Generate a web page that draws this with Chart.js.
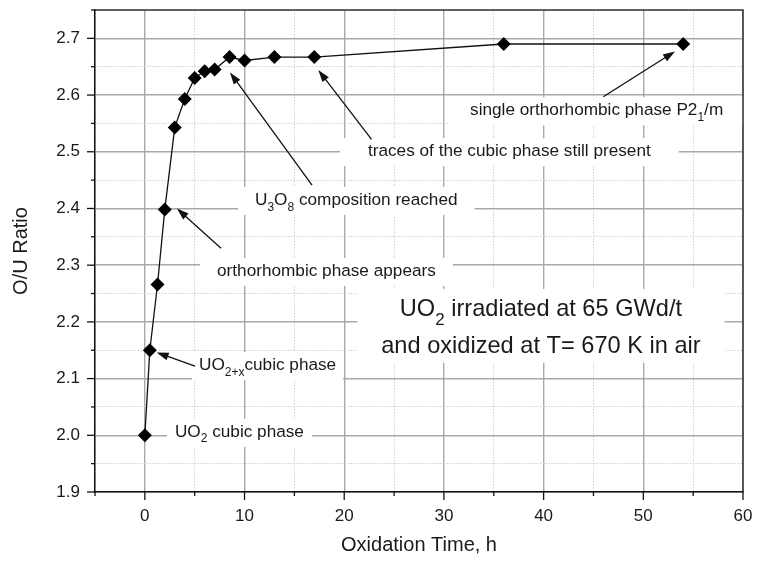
<!DOCTYPE html>
<html>
<head>
<meta charset="utf-8">
<script src="https://cdn.jsdelivr.net/npm/chart.js@4/dist/chart.umd.min.js"></script>
<style>
  html, body { margin: 0; padding: 0; background: #fff; }
  #wrap { width: 758px; height: 562px; position: relative; }
</style>
</head>
<body>
<div id="wrap"><canvas id="c" width="758" height="562"></canvas></div>
<script>
// ---- data ----
const timeH   = [0, 0.5, 1.27, 2, 3, 4, 5, 6, 7, 8.5, 10, 13, 17, 36, 54];
const ouRatio = [2.0, 2.15, 2.266, 2.398, 2.543, 2.593, 2.63, 2.642, 2.645, 2.667, 2.661, 2.667, 2.667, 2.69, 2.69];
const xTickLabels = ['0', '10', '20', '30', '40', '50', '60'];
const yTickLabels = ['1.9', '2.0', '2.1', '2.2', '2.3', '2.4', '2.5', '2.6', '2.7'];

// annotation texts ([text, isSubscript])
const noteTexts = [
  [['UO', 0], ['2', 1], [' cubic phase', 0]],
  [['UO', 0], ['2+x', 1], ['cubic phase', 0]],
  [['orthorhombic phase appears', 0]],
  [['U', 0], ['3', 1], ['O', 0], ['8', 1], [' composition reached', 0]],
  [['traces of the cubic phase still present', 0]],
  [['single orthorhombic phase P2', 0], ['1', 1], ['/m', 0]]
];
// left edge / vertical middle of each note, in data units
const noteAnchors = [[3.02, 2.006], [5.43, 2.124], [7.24, 2.29], [11.05, 2.415], [22.38, 2.501], [32.62, 2.573]];
const arrowTails = [null, [5.03, 2.122], [7.64, 2.330], [16.77, 2.441], [22.74, 2.522], [45.99, 2.597]];
const arrowHeads = [null, [1.18, 2.146], [3.22, 2.40], [8.54, 2.64], [17.40, 2.644], [53.18, 2.677]];
const infoLines = [
  [['UO', 0], ['2', 1], [' irradiated at 65 GWd/t', 0]],
  [['and oxidized at T= 670 K in air', 0]]
];
const infoCenters = [[39.73, 2.221], [39.73, 2.156]];

// ---- style ----
const FONT = '"Liberation Sans", Arial, Helvetica, sans-serif';
const notePads = [8, 7, 17, 17, 28, 20];
const NOTE_SIZE = 17.2;
const INFO_SIZE = 23.6;

function richWidth(ctx, parts, size) {
  let w = 0;
  parts.forEach(p => {
    ctx.font = (p[1] ? Math.round(size * 0.72) : size) + 'px ' + FONT;
    w += ctx.measureText(p[0]).width;
  });
  return w;
}
function drawRich(ctx, parts, x, y, size) {
  let cx = x;
  ctx.textAlign = 'left';
  ctx.textBaseline = 'middle';
  ctx.fillStyle = '#1a1a1a';
  parts.forEach(p => {
    ctx.font = (p[1] ? Math.round(size * 0.72) : size) + 'px ' + FONT;
    ctx.fillText(p[0], cx, p[1] ? y + size * 0.42 : y);
    cx += ctx.measureText(p[0]).width;
  });
}
function drawArrow(ctx, x1, y1, x2, y2) {
  const a = Math.atan2(y2 - y1, x2 - x1);
  const L = 12, W = 4;
  ctx.strokeStyle = '#111';
  ctx.fillStyle = '#111';
  ctx.lineWidth = 1.3;
  ctx.beginPath();
  ctx.moveTo(x1, y1);
  ctx.lineTo(x2 - L * 0.8 * Math.cos(a), y2 - L * 0.8 * Math.sin(a));
  ctx.stroke();
  ctx.beginPath();
  ctx.moveTo(x2, y2);
  ctx.lineTo(x2 - L * Math.cos(a) + W * Math.sin(a), y2 - L * Math.sin(a) - W * Math.cos(a));
  ctx.lineTo(x2 - L * Math.cos(a) - W * Math.sin(a), y2 - L * Math.sin(a) + W * Math.cos(a));
  ctx.closePath();
  ctx.fill();
}

const decor = {
  id: 'decor',
  beforeDatasetsDraw(chart) {
    const { ctx, scales: { x, y } } = chart;
    ctx.save();
    noteTexts.forEach((parts, i) => {
      const px = x.getPixelForValue(noteAnchors[i][0]);
      const py = y.getPixelForValue(noteAnchors[i][1]);
      const w = richWidth(ctx, parts, NOTE_SIZE);
      const pad = notePads[i];
      ctx.fillStyle = '#fff';
      ctx.fillRect(px - pad, py - 13, w + 2 * pad, 28);
      drawRich(ctx, parts, px, py, NOTE_SIZE);
    });
    let maxW = 0;
    infoLines.forEach(l => { maxW = Math.max(maxW, richWidth(ctx, l, INFO_SIZE)); });
    const cx0 = x.getPixelForValue(infoCenters[0][0]);
    const y0 = y.getPixelForValue(infoCenters[0][1]);
    const y1 = y.getPixelForValue(infoCenters[1][1]);
    ctx.fillStyle = '#fff';
    ctx.fillRect(cx0 - maxW / 2 - 24, y0 - 21, maxW + 48, (y1 - y0) + 37);
    infoLines.forEach((l, i) => {
      const w = richWidth(ctx, l, INFO_SIZE);
      const cx = x.getPixelForValue(infoCenters[i][0]);
      const cy = y.getPixelForValue(infoCenters[i][1]);
      drawRich(ctx, l, cx - w / 2, cy, INFO_SIZE);
    });
    arrowTails.forEach((t, i) => {
      if (!t) return;
      const h = arrowHeads[i];
      drawArrow(ctx, x.getPixelForValue(t[0]), y.getPixelForValue(t[1]),
                x.getPixelForValue(h[0]), y.getPixelForValue(h[1]));
    });
    ctx.restore();
  },
  afterDraw(chart) {
    const { ctx, chartArea: a, scales: { x, y } } = chart;
    ctx.save();
    ctx.strokeStyle = '#333';
    ctx.lineWidth = 1.5;
    ctx.beginPath();
    ctx.moveTo(a.left, a.top); ctx.lineTo(a.right, a.top); ctx.lineTo(a.right, a.bottom);
    ctx.stroke();
    ctx.strokeStyle = '#111';
    ctx.lineWidth = 1.3;
    x.ticks.forEach(t => {
      const p = x.getPixelForValue(t.value);
      const len = t.major ? 8 : 4;
      ctx.beginPath(); ctx.moveTo(p, a.bottom); ctx.lineTo(p, a.bottom + len); ctx.stroke();
    });
    y.ticks.forEach(t => {
      const p = y.getPixelForValue(t.value);
      const len = t.major ? 8 : 4;
      ctx.beginPath(); ctx.moveTo(a.left - len, p); ctx.lineTo(a.left, p); ctx.stroke();
    });
    ctx.restore();
  }
};

function buildTicks(labels) {
  const vals = labels.map(Number);
  const out = [];
  vals.forEach((v, i) => {
    out.push({ value: v, major: true, label: labels[i] });
    if (i < vals.length - 1) out.push({ value: (v + vals[i + 1]) / 2, major: false, label: '' });
  });
  return out;
}

const gridColor = ctx => (ctx.tick && ctx.tick.major) ? '#a9a9a9' : '#cfcfcf';
const gridWidth = ctx => (ctx.tick && ctx.tick.major) ? 1.4 : 1;
const gridDash  = ctx => (ctx.tick && !ctx.tick.major) ? [1.5, 1.5] : [];

new Chart(document.getElementById('c'), {
  type: 'scatter',
  data: {
    datasets: [{
      data: timeH.map((t, i) => ({ x: t, y: ouRatio[i] })),
      showLine: true,
      borderColor: '#111',
      borderWidth: 1.3,
      pointStyle: 'rectRot',
      pointRadius: 7,
      pointBackgroundColor: '#000',
      pointBorderColor: '#000',
      pointBorderWidth: 0,
      tension: 0
    }]
  },
  options: {
    responsive: false,
    animation: false,
    events: [],
    layout: { padding: { top: 10, right: 15, left: 0, bottom: 0 } },
    plugins: { legend: { display: false }, tooltip: { enabled: false } },
    scales: {
      x: {
        type: 'linear', min: -5, max: 60,
        afterBuildTicks: s => { s.ticks = [{ value: -5, major: false, label: '' }].concat(buildTicks(xTickLabels)); },
        afterFit: s => { s.height = 70; s.paddingLeft = 0; s.paddingRight = 0; },
        ticks: { padding: 14, color: '#1a1a1a', font: { family: FONT, size: 17 },
                 callback: function (v, i, ticks) { return ticks[i].label; } },
        grid: { drawTicks: false, color: gridColor, lineWidth: gridWidth },
        border: { color: '#111', width: 1.5, dash: gridDash },
        title: { display: true, text: 'Oxidation Time, h', color: '#1a1a1a',
                 font: { family: FONT, size: 20 }, padding: { top: 0, bottom: 5 } }
      },
      y: {
        type: 'linear', min: 1.9, max: 2.75,
        afterBuildTicks: s => { s.ticks = buildTicks(yTickLabels).concat([{ value: 2.75, major: false, label: '' }]); },
        afterFit: s => { s.width = 95; s.paddingTop = 0; s.paddingBottom = 0; },
        ticks: { padding: 15, color: '#1a1a1a', font: { family: FONT, size: 17 },
                 callback: function (v, i, ticks) { return ticks[i].label; } },
        grid: { drawTicks: false, color: gridColor, lineWidth: gridWidth },
        border: { color: '#111', width: 1.5, dash: gridDash },
        title: { display: true, text: 'O/U Ratio', color: '#1a1a1a',
                 font: { family: FONT, size: 20 }, padding: { top: 9, bottom: 0 } }
      }
    }
  },
  plugins: [decor]
});
</script>
</body>
</html>
